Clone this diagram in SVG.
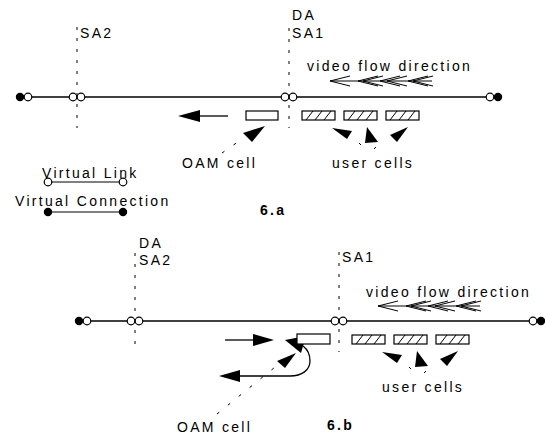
<svg xmlns="http://www.w3.org/2000/svg" xmlns:xlink="http://www.w3.org/1999/xlink" width="545" height="434" viewBox="0 0 545 434">
<style>
  text { font-family: "Liberation Sans", Arial, sans-serif; font-size: 14px; letter-spacing: 2.3px; fill: #000; }
  .b { font-weight: bold; }
  .ln { stroke: #000; stroke-width: 1.3; fill: none; }
  .thin { stroke: #000; stroke-width: 1; fill: none; }
  .dash { stroke: #000; stroke-width: 1; fill: none; stroke-dasharray: 3 8; }
  .odash { stroke: #000; stroke-width: 1; fill: none; stroke-dasharray: 3 11; }
  .open { fill: #fff; stroke: #000; stroke-width: 1.2; }
  .full { fill: #000; stroke: #000; stroke-width: 1.2; }
  .cell { fill: #fff; stroke: #000; stroke-width: 1.2; }
  .hatch { stroke: #000; stroke-width: 1; }
  .head { fill: #000; stroke: none; }
</style>
<defs>
  <g id="ucell">
    <rect class="cell" x="0" y="0" width="33" height="9"/>
    <line class="hatch" x1="4" y1="9" x2="11" y2="0"/>
    <line class="hatch" x1="13" y1="9" x2="20" y2="0"/>
    <line class="hatch" x1="22" y1="9" x2="29" y2="0"/>
  </g>
  <g id="flow">
    <line class="thin" x1="0" y1="0" x2="102" y2="0"/>
    <path class="thin" d="M20,-5 L0,0 L20,5 M48,-5 L28,0 L48,5 M53,-5 L33,0 L53,5 M70,-5 L50,0 L70,5 M77,-5 L57,0 L77,5 M98,-5 L78,0 L98,5 M103,-5 L83,0 L103,5"/>
  </g>
  <g id="ucluster">
    <use xlink:href="#ucell" x="302" y="111"/>
    <use xlink:href="#ucell" x="344" y="111"/>
    <use xlink:href="#ucell" x="386" y="111"/>
    <polygon class="head" points="332,128 352,131 347,139"/>
    <polygon class="head" points="367,127 365,143 378,142"/>
    <polygon class="head" points="408,127 390,135 397,142"/>
    <line class="thin" x1="359" y1="143" x2="361" y2="145"/>
    <line class="thin" x1="374" y1="149" x2="376" y2="147"/>
    <text x="332" y="168">user cells</text>
  </g>
</defs>

<!-- ===== 6.a ===== -->
<g id="vline-a-sa2"><line class="dash" x1="77" y1="27" x2="77" y2="128"/><text x="80" y="38">SA2</text></g>
<g id="vline-a-sa1"><line class="dash" x1="289" y1="28" x2="289" y2="128"/><text x="292" y="20">DA</text><text x="292" y="38">SA1</text></g>

<g id="connectors">
  <!-- 6.a link -->
  <line class="ln" x1="24" y1="97" x2="494" y2="97"/>
  <!-- 6.a OAM arrow -->
  <line class="ln" x1="199" y1="116" x2="228" y2="116"/>
  <polygon class="head" points="178,116 200,110 200,122"/>
  <line class="odash" x1="222" y1="153" x2="245" y2="137"/>
  <polygon class="head" points="265,126 243,133 252,142"/>
  <!-- 6.b link -->
  <line class="ln" x1="83" y1="321" x2="537" y2="321"/>
  <!-- 6.b arrows -->
  <line class="ln" x1="225" y1="340" x2="254" y2="340"/>
  <polygon class="head" points="274,340 253,334 253,346"/>
  <path class="ln" d="M239,376 L290,376 C302,376 310,370 310,361 C310,353 307,349 303,346"/>
  <polygon class="head" points="219,376 240,370 240,382"/>
  <polygon class="head" points="285,340 306,336 301,353"/>
  <polygon class="head" points="296,353 277,361 285,368"/>
  <line class="odash" x1="217" y1="414" x2="280" y2="363"/>
</g>

<g id="ends-a">
  <circle class="full" cx="20" cy="97" r="3.6"/>
  <circle class="open" cx="28" cy="97" r="3.8"/>
  <circle class="open" cx="73" cy="97" r="3.8"/>
  <circle class="open" cx="81" cy="97" r="3.8"/>
  <circle class="open" cx="285" cy="97" r="3.8"/>
  <circle class="open" cx="293" cy="97" r="3.8"/>
  <circle class="open" cx="490" cy="97" r="3.8"/>
  <circle class="full" cx="498" cy="97" r="3.6"/>
</g>

<g id="flow-a"><text x="307" y="71">video flow direction</text><use xlink:href="#flow" x="330" y="81"/></g>
<g id="oam-a"><rect class="cell" x="246" y="111" width="32" height="9"/><text x="182" y="168">OAM cell</text></g>
<g id="users-a"><use xlink:href="#ucluster"/></g>

<g id="legend">
  <text x="42" y="178">Virtual Link</text>
  <line class="thin" x1="48" y1="182" x2="123" y2="182"/>
  <circle class="open" cx="48" cy="182" r="3.8"/>
  <circle class="open" cx="123" cy="182" r="3.8"/>
  <text x="15" y="206">Virtual Connection</text>
  <line class="thin" x1="48" y1="212" x2="123" y2="212"/>
  <circle class="full" cx="48" cy="212" r="3.6"/>
  <circle class="full" cx="123" cy="212" r="3.6"/>
</g>
<g id="label-a"><text class="b" x="260" y="215">6.a</text></g>

<!-- ===== 6.b ===== -->
<g id="vline-b-sa2"><line class="dash" x1="135" y1="253" x2="135" y2="352"/><text x="139" y="248">DA</text><text x="139" y="265">SA2</text></g>
<g id="vline-b-sa1"><line class="dash" x1="339" y1="252" x2="339" y2="352"/><text x="342" y="262">SA1</text></g>

<g id="ends-b">
  <circle class="full" cx="79" cy="321" r="3.6"/>
  <circle class="open" cx="87" cy="321" r="3.8"/>
  <circle class="open" cx="131" cy="321" r="3.8"/>
  <circle class="open" cx="139" cy="321" r="3.8"/>
  <circle class="open" cx="335" cy="321" r="3.8"/>
  <circle class="open" cx="343" cy="321" r="3.8"/>
  <circle class="open" cx="533" cy="321" r="3.8"/>
  <circle class="full" cx="541" cy="321" r="3.6"/>
</g>

<g id="flow-b"><text x="366" y="297">video flow direction</text><use xlink:href="#flow" x="378" y="306"/></g>
<g id="oam-b"><rect class="cell" x="297" y="334" width="33" height="10"/><text x="177" y="432">OAM cell</text></g>
<g id="users-b"><use xlink:href="#ucluster" transform="translate(50,224)"/></g>
<g id="label-b"><text class="b" x="327" y="430">6.b</text></g>
</svg>
